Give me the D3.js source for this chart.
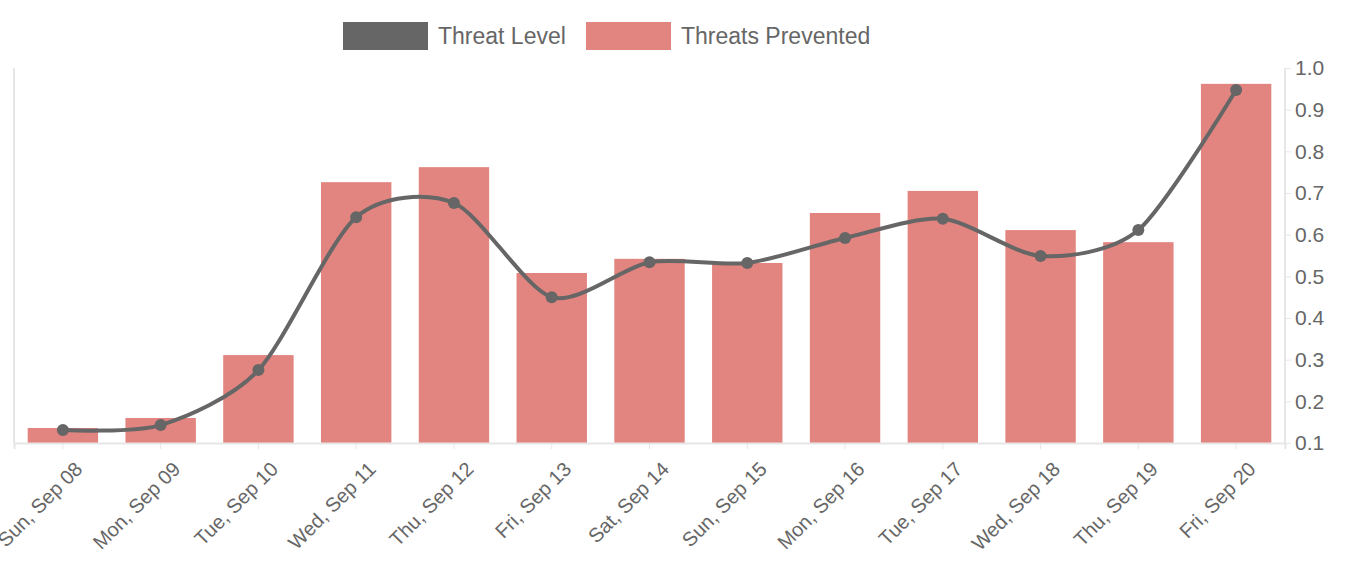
<!DOCTYPE html>
<html><head><meta charset="utf-8">
<script src="https://cdn.jsdelivr.net/npm/d3@7"></script>
<style>body{margin:0;background:#fff}svg{font-family:"Helvetica Neue",Arial,"Liberation Sans",sans-serif}</style>
</head><body><svg id="c" width="1354" height="576"></svg>
<script>
const categories=["Sun, Sep 08","Mon, Sep 09","Tue, Sep 10","Wed, Sep 11","Thu, Sep 12","Fri, Sep 13","Sat, Sep 14","Sun, Sep 15","Mon, Sep 16","Tue, Sep 17","Wed, Sep 18","Thu, Sep 19","Fri, Sep 20"];
const threatsPrevented=[0.136,0.160,0.311,0.726,0.762,0.508,0.542,0.532,0.652,0.705,0.611,0.582,0.962];
const threatLevel=[0.131,0.143,0.275,0.642,0.676,0.450,0.534,0.532,0.592,0.638,0.549,0.611,0.947];
const yTicks=[0.1,0.2,0.3,0.4,0.5,0.6,0.7,0.8,0.9,1.0];
const svg=d3.select("#c");
const L=14,R=1285,T=68,B=443;
const x=d3.scaleBand().domain(categories).range([L,R]).paddingInner(0.28).paddingOuter(0.14);
const y=d3.scaleLinear().domain([0.1,1.0]).range([B,T]);
svg.append("g").selectAll("rect").data(threatsPrevented).join("rect")
 .attr("x",(d,i)=>x(categories[i])).attr("width",x.bandwidth())
 .attr("y",d=>y(d)).attr("height",d=>B-y(d)).attr("fill","#e2847f");
svg.append("line").attr("x1",L).attr("x2",L).attr("y1",T).attr("y2",B).attr("stroke","#e6e6e6").attr("stroke-width",2);
svg.append("line").attr("x1",R).attr("x2",R).attr("y1",T).attr("y2",B).attr("stroke","#e6e6e6").attr("stroke-width",2);
const ya=svg.append("g").attr("transform",`translate(${R},0)`).call(d3.axisRight(y).tickValues(yTicks).tickFormat(d3.format(".1f")).tickSize(6).tickPadding(4));
ya.select(".domain").remove();
ya.selectAll("line").attr("stroke","#e6e6e6");
ya.selectAll("text").attr("fill","#666").attr("font-size",21);
const xa=svg.append("g").attr("transform",`translate(0,${B})`).call(d3.axisBottom(x).tickSize(6));
xa.select(".domain").attr("stroke","#e6e6e6").attr("stroke-width",2);
xa.selectAll("line").attr("stroke","#e6e6e6");
xa.selectAll("text").attr("fill","#666").attr("font-size",20).attr("text-anchor","end")
 .attr("transform","translate(6,4) rotate(-45)").attr("dx","-0.3em").attr("dy","0.9em");
const cx=(i)=>x(categories[i])+x.bandwidth()/2;
svg.append("path").datum(threatLevel).attr("fill","none").attr("stroke","#666").attr("stroke-width",4)
 .attr("d",d3.line().x((d,i)=>cx(i)).y(d=>y(d)).curve(d3.curveCardinal.tension(0.2)));
svg.append("g").selectAll("circle").data(threatLevel).join("circle")
 .attr("cx",(d,i)=>cx(i)).attr("cy",d=>y(d)).attr("r",6).attr("fill","#666");
const leg=[["Threat Level","#666",343],["Threats Prevented","#e2847f",586]];
leg.forEach(([t,c,lx])=>{
 svg.append("rect").attr("x",lx).attr("y",22).attr("width",85).attr("height",28).attr("fill",c);
 svg.append("text").attr("x",lx+95).attr("y",44).attr("fill","#666").attr("font-size",23).text(t);
});
</script></body></html>
